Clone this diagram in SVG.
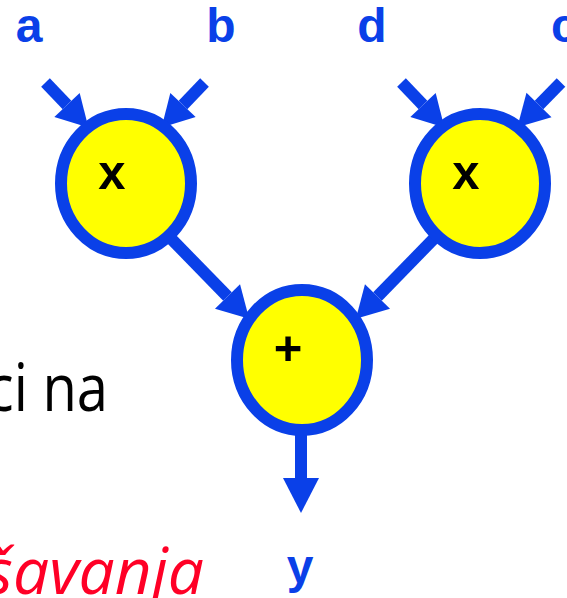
<svg xmlns="http://www.w3.org/2000/svg" width="567" height="598" viewBox="0 0 567 598">
<style>
.conn{stroke:#0A40E8;stroke-width:12;fill:none}
.node{fill:#FFFF00;stroke:#0A40E8;stroke-width:12}
.lbl{font-family:"Liberation Sans",Arial,sans-serif;font-weight:bold;font-size:48px;fill:#0A40E8}
.op{font-family:"Liberation Sans",Arial,sans-serif;font-weight:bold;font-size:49px;fill:#000}
.body{font-family:"Open Sans","Noto Sans",sans-serif;font-size:66px;fill:#000}
.red{font-family:"Open Sans","Noto Sans",sans-serif;font-style:italic;font-size:64px;fill:#FF0026}
</style>
<defs>
<marker id="head" markerUnits="userSpaceOnUse" viewBox="-2 -18 34 36" markerWidth="34" markerHeight="36" refX="0" refY="0" orient="auto">
<path d="M0,-17.5 L31,0 L0,17.5 z" fill="#0A40E8"/>
</marker>
<marker id="headV" markerUnits="userSpaceOnUse" viewBox="-2 -19 38 38" markerWidth="38" markerHeight="38" refX="0" refY="0" orient="auto">
<path d="M0,-18 L35,0 L0,18 z" fill="#0A40E8"/>
</marker>
</defs>
<text class="body" transform="translate(108,411) scale(0.85,1)" x="0" y="0" text-anchor="end">ci na</text>
<text class="red" x="204" y="594" text-anchor="end">šavanja</text>
<g id="connectors">
<line class="conn" x1="45.5" y1="82.5" x2="67" y2="105" marker-end="url(#head)"/>
<line class="conn" x1="204.5" y1="82.5" x2="183" y2="105" marker-end="url(#head)"/>
<line class="conn" x1="401.5" y1="82.5" x2="423" y2="105" marker-end="url(#head)"/>
<line class="conn" x1="561" y1="82.5" x2="539" y2="105" marker-end="url(#head)"/>
<line class="conn" x1="150" y1="217" x2="227.5" y2="296.5" marker-end="url(#head)"/>
<line class="conn" x1="455" y1="217" x2="377.5" y2="296.5" marker-end="url(#head)"/>
<line class="conn" x1="301" y1="420" x2="301" y2="478" marker-end="url(#headV)"/>
</g>
<g id="mul1">
<ellipse class="node" cx="126" cy="183.5" rx="65" ry="69.5"/>
<text class="op" x="112" y="189" text-anchor="middle">x</text>
</g>
<g id="mul2">
<ellipse class="node" cx="480" cy="183.5" rx="65" ry="69.5"/>
<text class="op" x="466" y="189" text-anchor="middle">x</text>
</g>
<g id="add">
<ellipse class="node" cx="302" cy="360" rx="65" ry="70"/>
<text class="op" x="288" y="364.5" text-anchor="middle">+</text>
</g>
<g id="labels">
<text class="lbl" x="29" y="42" text-anchor="middle">a</text>
<text class="lbl" x="221" y="42" text-anchor="middle">b</text>
<text class="lbl" x="372" y="42" text-anchor="middle">d</text>
<text class="lbl" x="551" y="42">c</text>
<text class="lbl" x="300" y="583" text-anchor="middle">y</text>
</g>
</svg>
